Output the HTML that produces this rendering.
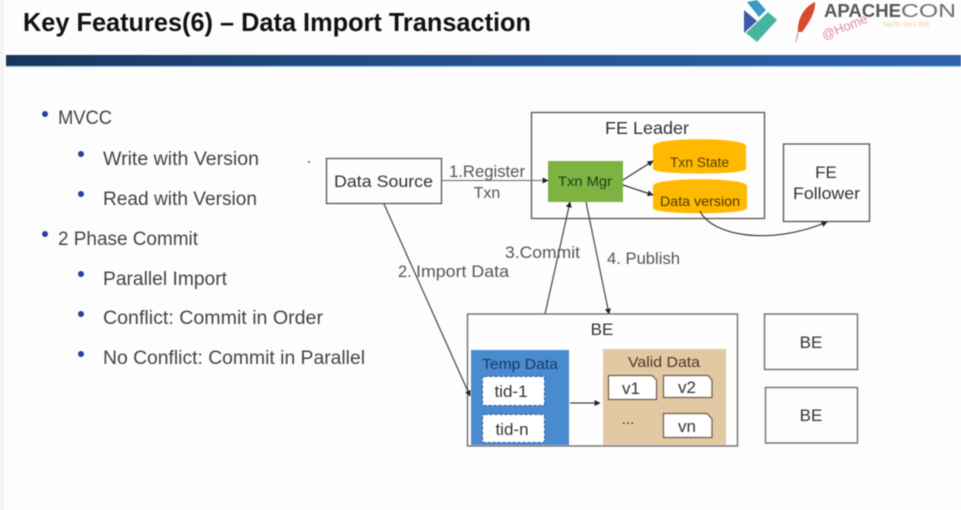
<!DOCTYPE html>
<html><head><meta charset="utf-8">
<style>
html,body{margin:0;padding:0;width:961px;height:510px;overflow:hidden;background:#fdfdfd}
svg{display:block;filter:blur(.45px)}
text{font-family:"Liberation Sans",sans-serif;fill:#333}
</style></head>
<body>
<svg width="961" height="510" viewBox="0 0 961 510" xmlns="http://www.w3.org/2000/svg">
<defs>
<linearGradient id="bar" x1="0" x2="1" y1="0" y2="0"><stop offset="0" stop-color="#17365d"/><stop offset=".45" stop-color="#24508a"/><stop offset="1" stop-color="#2f62ac"/></linearGradient>
<marker id="a" viewBox="0 0 10 10" refX="9" refY="5" markerWidth="6" markerHeight="6" orient="auto" markerUnits="userSpaceOnUse"><path d="M0 0L10 5L0 10z" fill="#222"/></marker>
</defs>
<rect width="961" height="510" fill="#fdfdfd"/>
<rect x="0" y="0" width="4" height="510" fill="#f3f3f3"/>
<rect x="6" y="55" width="955" height="11" fill="url(#bar)"/>
<rect x="6" y="66" width="955" height="1.500" fill="#bfe3f5"/>
<text x="23" y="31" font-size="26" font-weight="700" style="fill:#111" textLength="508" lengthAdjust="spacingAndGlyphs">Key Features(6) – Data Import Transaction</text>

<!-- logos -->
<path d="M744 10L757 21L744 33z" fill="#3e5ba9"/>
<path d="M747 2L757 0L766 10L759 17z" fill="#3b9bc4"/>
<path d="M768 12L777 20L757 42L746 33z" fill="#46b59e"/>
<path d="M815 2C802 8 797 22 798 32L802 32C808 24 816 12 815 2z" fill="#d9482f"/>
<path d="M798 32L796 42" stroke="#c9a0a8" stroke-width="1.300"/>
<text x="824" y="17" font-size="18" font-weight="700" style="fill:#55585c" textLength="77" lengthAdjust="spacingAndGlyphs">APACHE</text>
<text x="901" y="17" font-size="18" style="fill:#6b6e72" textLength="55" lengthAdjust="spacingAndGlyphs">CON</text>
<text x="824" y="40" font-size="13" transform="rotate(-22 824 40)" style="fill:#e58aa0">@Home</text>
<text x="883" y="26" font-size="5" style="fill:#e8c27a">Sep 29 - Oct 1, 2020</text>

<!-- bullets -->
<g font-size="19">
<circle cx="45" cy="114" r="3" fill="#2a3f9e"/>
<text x="58" y="124" style="fill:#444" textLength="54" lengthAdjust="spacingAndGlyphs">MVCC</text>
<circle cx="81" cy="154" r="3" fill="#2a3f9e"/>
<text x="103" y="165" style="fill:#444" textLength="156" lengthAdjust="spacingAndGlyphs">Write with Version</text>
<circle cx="81" cy="194" r="3" fill="#2a3f9e"/>
<text x="103" y="205" style="fill:#444" textLength="154" lengthAdjust="spacingAndGlyphs">Read with Version</text>
<circle cx="45" cy="234" r="3" fill="#2a3f9e"/>
<text x="58" y="245" style="fill:#444" textLength="140" lengthAdjust="spacingAndGlyphs">2 Phase Commit</text>
<circle cx="81" cy="274" r="3" fill="#2a3f9e"/>
<text x="103" y="285" style="fill:#444" textLength="124" lengthAdjust="spacingAndGlyphs">Parallel Import</text>
<circle cx="81" cy="314" r="3" fill="#2a3f9e"/>
<text x="103" y="324" style="fill:#444" textLength="220" lengthAdjust="spacingAndGlyphs">Conflict: Commit in Order</text>
<circle cx="81" cy="354" r="3" fill="#2a3f9e"/>
<text x="103" y="364" style="fill:#444" textLength="262" lengthAdjust="spacingAndGlyphs">No Conflict: Commit in Parallel</text>
</g>
<circle cx="309" cy="162" r="1" fill="#555"/>

<!-- FE Leader -->
<rect x="531.500" y="112.500" width="233" height="106" fill="none" stroke="#555" stroke-width="1.300"/>
<text x="605" y="134" font-size="17.500" textLength="84" lengthAdjust="spacingAndGlyphs">FE Leader</text>
<rect x="548" y="161" width="75" height="41" fill="#7cb342"/>
<text x="558" y="186" font-size="14" style="fill:#1d3d10" textLength="54" lengthAdjust="spacingAndGlyphs">Txn Mgr</text>

<path d="M653 146C653 137 746 137 746 146V169C746 175 653 175 653 169z" fill="#ffb900"/>
<text x="670" y="167" font-size="13.500" style="fill:#5a4000" textLength="59" lengthAdjust="spacingAndGlyphs">Txn State</text>
<path d="M653 186C653 177 747 177 747 186V208C747 215 653 215 653 208z" fill="#ffb900"/>
<text x="660" y="206" font-size="14" style="fill:#4f3800" textLength="80" lengthAdjust="spacingAndGlyphs">Data version</text>

<line x1="623" y1="180" x2="653" y2="161" stroke="#333" stroke-width="1.200" marker-end="url(#a)"/>
<line x1="623" y1="185" x2="653" y2="195" stroke="#333" stroke-width="1.200" marker-end="url(#a)"/>

<!-- FE Follower -->
<rect x="783.500" y="144" width="86" height="77.500" fill="none" stroke="#555" stroke-width="1.300"/>
<text x="826" y="178" font-size="17" text-anchor="middle">FE</text>
<text x="793" y="199" font-size="17" textLength="67" lengthAdjust="spacingAndGlyphs">Follower</text>
<path d="M700 211C712 236 770 246 827 222" fill="none" stroke="#333" stroke-width="1.200" marker-end="url(#a)"/>

<!-- Data Source -->
<rect x="326.500" y="158.500" width="115" height="45" fill="none" stroke="#555" stroke-width="1.300"/>
<text x="334" y="187" font-size="17" textLength="99" lengthAdjust="spacingAndGlyphs">Data Source</text>
<line x1="442" y1="180.500" x2="548" y2="180.500" stroke="#666" stroke-width="1.100" marker-end="url(#a)"/>
<text x="449" y="177" font-size="16.500" style="fill:#555" textLength="76" lengthAdjust="spacingAndGlyphs">1.Register</text>
<text x="487" y="198" font-size="16" text-anchor="middle" style="fill:#555">Txn</text>

<!-- connectors -->
<line x1="545" y1="314" x2="570" y2="202" stroke="#444" stroke-width="1.200" marker-end="url(#a)"/>
<text x="505" y="258" font-size="16.500" style="fill:#555" textLength="75" lengthAdjust="spacingAndGlyphs">3.Commit</text>
<line x1="586" y1="202" x2="609" y2="314" stroke="#444" stroke-width="1.200" marker-end="url(#a)"/>
<text x="607" y="264" font-size="16.500" style="fill:#555" textLength="73" lengthAdjust="spacingAndGlyphs">4. Publish</text>

<!-- BE main -->
<rect x="467.500" y="314" width="270" height="132" fill="#fefefe" stroke="#666" stroke-width="1.300"/>
<text x="602" y="335" font-size="17" text-anchor="middle">BE</text>
<rect x="471" y="350" width="98" height="95" fill="#4a8bd0"/>
<text x="482" y="369" font-size="15" style="fill:#17386b" textLength="76" lengthAdjust="spacingAndGlyphs">Temp Data</text>
<rect x="482.500" y="376.500" width="62" height="29" rx="2" fill="#fff" stroke="#2f5f9a" stroke-dasharray="3 2"/>
<text x="511" y="397" font-size="17" text-anchor="middle">tid-1</text>
<rect x="482.500" y="414.500" width="62" height="28" rx="2" fill="#fff" stroke="#2f5f9a" stroke-dasharray="3 2"/>
<text x="512" y="435" font-size="17" text-anchor="middle">tid-n</text>

<rect x="603" y="349" width="123" height="96" fill="#e3c8a4"/>
<text x="628" y="367" font-size="15" style="fill:#4a3a28" textLength="72" lengthAdjust="spacingAndGlyphs">Valid Data</text>
<path d="M608.500 375.500H652L656.500 380V399.500H608.500z" fill="#fff" stroke="#6d5c48" stroke-width="1.200"/>
<text x="631" y="394" font-size="17" text-anchor="middle">v1</text>
<path d="M663.500 375.500H708L712 380V397.500H663.500z" fill="#fff" stroke="#6d5c48" stroke-width="1.200"/>
<text x="687" y="393" font-size="17" text-anchor="middle">v2</text>
<text x="628" y="424" font-size="15" text-anchor="middle">...</text>
<path d="M663.500 413.500H707L712 419V437.500H663.500z" fill="#fff" stroke="#6d5c48" stroke-width="1.200"/>
<text x="687" y="432" font-size="17" text-anchor="middle">vn</text>
<line x1="570" y1="403" x2="600" y2="403" stroke="#444" stroke-width="1.200" marker-end="url(#a)"/>

<!-- import data connector sits above the BE box -->
<line x1="384" y1="204" x2="470" y2="396" stroke="#444" stroke-width="1.200" marker-end="url(#a)"/>
<text x="398" y="277" font-size="16.500" style="fill:#555">2.</text>
<text x="416" y="277" font-size="16.500" style="fill:#555" textLength="93" lengthAdjust="spacingAndGlyphs">Import Data</text>

<!-- Other BEs -->
<rect x="764.500" y="314" width="93" height="55.500" fill="none" stroke="#666" stroke-width="1.300"/>
<text x="811" y="348" font-size="17" text-anchor="middle">BE</text>
<rect x="765.500" y="387.500" width="92" height="55.500" fill="none" stroke="#666" stroke-width="1.300"/>
<text x="811" y="421" font-size="17" text-anchor="middle">BE</text>
</svg>
</body></html>
